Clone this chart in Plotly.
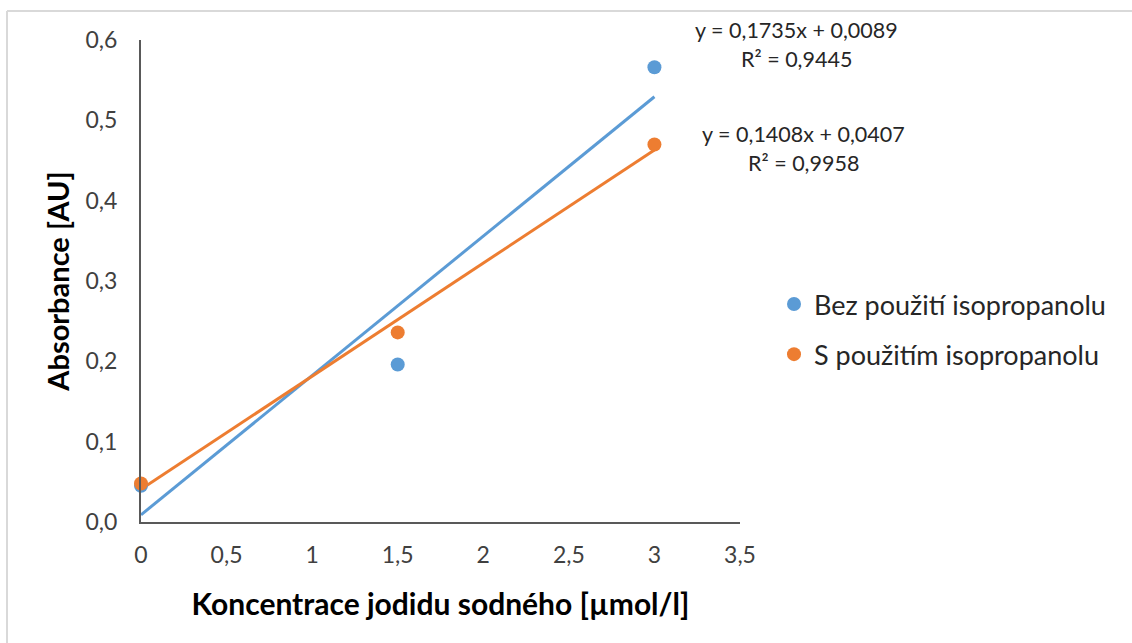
import plotly.graph_objects as go

# Data
x_vals = [0, 1.5, 3]
y_bez = [0.045, 0.196, 0.566]
y_s = [0.048, 0.236, 0.470]

# Trendline coefficients (from chart labels)
slope_bez, icpt_bez = 0.1735, 0.0089
slope_s, icpt_s = 0.1408, 0.0407
trend_x = [0, 3]

x_ticks = [0, 0.5, 1, 1.5, 2, 2.5, 3, 3.5]
x_ticktext = ["0", "0,5", "1", "1,5", "2", "2,5", "3", "3,5"]
y_ticks = [0, 0.1, 0.2, 0.3, 0.4, 0.5, 0.6]
y_ticktext = ["0,0", "0,1", "0,2", "0,3", "0,4", "0,5", "0,6"]

names = ["Bez použití isopropanolu", "S použitím isopropanolu"]
eq_text = [["y = 0,1735x + 0,0089", "R² = 0,9445"], ["y = 0,1408x + 0,0407", "R² = 0,9958"]]

BLUE = "#5B9BD5"
ORANGE = "#ED7D31"
FONT = "Lato"

fig = go.Figure()
fig.add_trace(go.Scatter(x=trend_x, y=[icpt_bez + slope_bez * v for v in trend_x], mode="lines",
                         line=dict(color=BLUE, width=3), showlegend=False, hoverinfo="skip"))
fig.add_trace(go.Scatter(x=trend_x, y=[icpt_s + slope_s * v for v in trend_x], mode="lines",
                         line=dict(color=ORANGE, width=3), showlegend=False, hoverinfo="skip"))
fig.add_trace(go.Scatter(x=x_vals, y=y_bez, mode="markers", name=names[0], legendgroup="a",
                         marker=dict(color=BLUE, size=14), cliponaxis=False))
fig.add_trace(go.Scatter(x=x_vals, y=y_s, mode="markers", name=names[1], legendgroup="b",
                         marker=dict(color=ORANGE, size=14), cliponaxis=False))

W, H = 1132, 643
L, R, T, B = 141, 392, 40, 121
pw, ph = W - L - R, H - T - B

def px(xp):
    return (xp - L) / pw

def py(yp):
    return (H - B - yp) / ph

annotations = [
    dict(x=px(796), y=py(30), text=eq_text[0][0]),
    dict(x=px(796), y=py(59), text=eq_text[0][1]),
    dict(x=px(803), y=py(134), text=eq_text[1][0]),
    dict(x=px(803), y=py(163), text=eq_text[1][1]),
]
for a in annotations:
    a.update(xref="paper", yref="paper", showarrow=False, xanchor="center", yanchor="middle",
             font=dict(family=FONT, size=21.5, color="#262626"))

fig.update_layout(
    width=W, height=H,
    margin=dict(l=L, r=R, t=T, b=B),
    paper_bgcolor="white", plot_bgcolor="white",
    font=dict(family=FONT, color="#404040"),
    showlegend=True,
    legend=dict(x=px(774), y=py(280), xanchor="left", yanchor="top", traceorder="grouped",
                tracegroupgap=12, font=dict(family=FONT, size=27, color="#262626"),
                itemwidth=30, bgcolor="rgba(0,0,0,0)"),
    annotations=annotations,
    shapes=[
        dict(type="line", xref="paper", yref="paper", x0=px(7), x1=px(7), y0=py(H + 5), y1=py(11),
             line=dict(color="#D9D9D9", width=2)),
        dict(type="line", xref="paper", yref="paper", x0=px(7), x1=px(W + 5), y0=py(11), y1=py(11),
             line=dict(color="#D9D9D9", width=2)),
    ],
)
fig.update_xaxes(range=[0, 3.5], tickvals=x_ticks, ticktext=x_ticktext, showgrid=False, zeroline=False,
                 showline=True, linecolor="#595959", linewidth=2, ticks="", ticklabelstandoff=11,
                 tickfont=dict(family=FONT, size=23, color="#404040"),
                 title=dict(text="<b>Koncentrace jodidu sodného [µmol/l]</b>", standoff=27,
                            font=dict(family=FONT, size=30, color="#000000")))
fig.update_yaxes(range=[0, 0.6], tickvals=y_ticks, ticktext=y_ticktext, showgrid=False, zeroline=False,
                 showline=True, linecolor="#595959", linewidth=2, ticks="", ticklabelstandoff=17,
                 tickfont=dict(family=FONT, size=23, color="#404040"),
                 title=dict(text="<b>Absorbance [AU]</b>", standoff=7,
                            font=dict(family=FONT, size=29, color="#000000")))

fig.write_html("out.html")
